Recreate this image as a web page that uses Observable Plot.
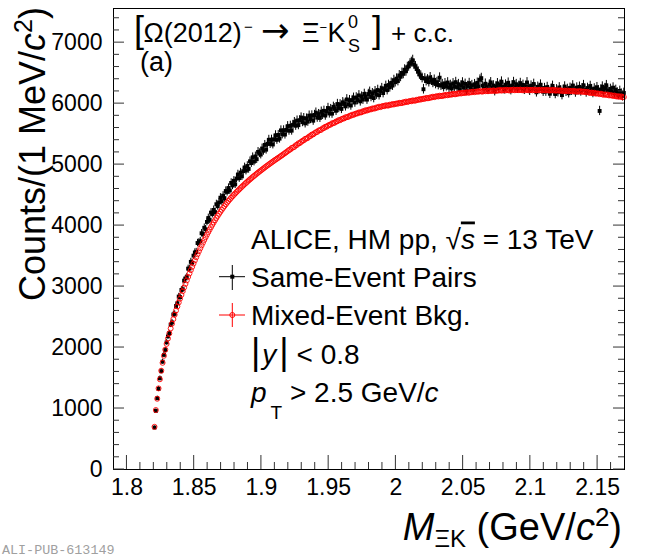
<!DOCTYPE html>
<html><head><meta charset="utf-8">
<script src="https://cdn.jsdelivr.net/npm/d3@7"></script>
<script src="https://cdn.jsdelivr.net/npm/@observablehq/plot@0.6"></script>
<style>
html,body{margin:0;padding:0;background:#fff;}
#chart{width:650px;height:558px;position:relative;overflow:hidden;}
</style></head><body><div id="chart"></div>
<script>
// Bin layout (1 MeV/c^2 bins)
const firstBinCenter = 1.8205;
const binWidth = 0.001;

// Same-event pairs (black)
const sameEventCounts = [
688,962,1168,1322,1495,1612,1768,1880,1958,2085,
2183,2236,2376,2413,2542,2553,2681,2727,2836,2827,
2944,2956,3097,3132,3156,3294,3295,3405,3389,3507,
3559,3567,3714,3725,3745,3874,3862,3964,3940,4060,
4124,4095,4213,4190,4256,4221,4350,4318,4380,4457,
4399,4490,4451,4567,4552,4616,4576,4699,4657,4734,
4676,4772,4838,4778,4869,4808,4893,4954,4901,4977,
4929,5054,5025,5120,5050,5134,5089,5208,5187,5165,
5264,5226,5323,5245,5341,5407,5338,5409,5330,5416,
5481,5406,5486,5426,5561,5496,5562,5493,5569,5630,
5556,5637,5557,5652,5697,5637,5722,5647,5727,5772,
5697,5762,5676,5755,5704,5803,5747,5806,5720,5814,
5852,5770,5828,5766,5868,5815,5882,5804,5871,5928,
5839,5910,5836,5947,5923,5883,5993,5928,5988,5913,
6022,5996,5955,6069,5988,6056,5969,6057,6095,6018,
6101,6058,6135,6037,6114,6066,6158,6110,6066,6157,
6193,6109,6170,6091,6202,6148,6223,6138,6208,6253,
6173,6238,6290,6221,6305,6268,6340,6296,6385,6352,
6408,6371,6462,6440,6503,6488,6556,6531,6598,6612,
6655,6680,6712,6640,6610,6566,6525,6478,6458,6420,
6236,6412,6370,6395,6352,6430,6378,6341,6390,6322,
6352,6305,6425,6296,6318,6270,6332,6285,6346,6262,
6305,6248,6331,6279,6352,6266,6318,6236,6298,6345,
6261,6323,6214,6289,6336,6258,6302,6229,6317,6271,
6340,6285,6392,6418,6296,6247,6325,6270,6228,6311,
6348,6262,6296,6205,6280,6332,6251,6308,6359,6274,
6233,6310,6267,6341,6286,6222,6297,6352,6264,6318,
6245,6291,6336,6259,6306,6228,6282,6347,6270,6212,
6294,6261,6322,6243,6186,6275,6237,6310,6252,6196,
6254,6198,6271,6220,6162,6245,6290,6206,6158,6232,
6187,6265,6214,6140,6226,6279,6195,6240,6171,6258,
6212,6297,6236,6183,6262,6218,6275,6201,6249,6302,
6228,6184,6256,6210,6288,6236,6175,6247,6206,6268,
6219,5880,6232,6278,6192,6254,6301,6215,6186,6240,
6198,6262,6171,6224,6185,6143,6208,6166,6122,6175
];

// Mixed-event background (red)
const mixedEventCounts = [
700,975,1160,1330,1480,1620,1750,1865,1965,2060,
2148,2232,2313,2391,2466,2538,2607,2674,2739,2802,
2864,2925,2985,3044,3102,3159,3215,3270,3324,3377,
3429,3480,3530,3579,3627,3674,3720,3765,3809,3852,
3894,3935,3975,4014,4052,4089,4125,4160,4194,4227,
4259,4290,4320,4349,4377,4404,4431,4456,4480,4504,
4527,4550,4572,4594,4616,4637,4658,4679,4699,4719,
4739,4758,4777,4796,4814,4832,4850,4868,4885,4902,
4919,4936,4953,4970,4986,5002,5018,5034,5050,5066,
5081,5096,5111,5126,5141,5156,5172,5188,5204,5220,
5239,5248,5273,5280,5291,5316,5324,5349,5352,5373,
5390,5398,5422,5428,5438,5462,5469,5493,5495,5515,
5530,5536,5559,5564,5572,5594,5599,5621,5621,5639,
5652,5656,5677,5680,5687,5707,5710,5730,5728,5744,
5755,5757,5776,5777,5782,5800,5801,5819,5815,5829,
5839,5839,5856,5855,5858,5875,5875,5892,5886,5898,
5906,5905,5921,5919,5921,5937,5935,5950,5943,5954,
5961,5959,5973,5969,5969,5983,5980,5994,5986,5996,
6002,5999,6013,6009,6009,6023,6020,6034,6026,6036,
6042,6039,6053,6049,6049,6063,6060,6074,6066,6076,
6082,6079,6093,6089,6089,6103,6100,6114,6106,6116,
6121,6117,6130,6125,6124,6137,6133,6146,6137,6146,
6151,6147,6160,6155,6154,6167,6163,6175,6166,6174,
6179,6174,6186,6181,6179,6191,6186,6198,6188,6196,
6200,6195,6206,6200,6197,6209,6203,6214,6203,6210,
6213,6207,6218,6211,6208,6219,6213,6224,6213,6220,
6222,6216,6227,6219,6216,6226,6220,6230,6219,6225,
6227,6220,6230,6222,6218,6227,6220,6230,6218,6224,
6225,6218,6228,6220,6216,6225,6218,6228,6216,6222,
6223,6216,6226,6218,6214,6224,6216,6225,6212,6217,
6218,6210,6219,6210,6205,6214,6206,6215,6202,6207,
6208,6200,6209,6200,6195,6204,6196,6205,6192,6197,
6196,6186,6193,6182,6175,6182,6172,6179,6164,6167,
6166,6156,6163,6152,6145,6152,6142,6149,6134,6137,
6136,6126,6133,6122,6115,6122,6112,6119,6104,6107
];

const xMajorTicks = [1.8, 1.85, 1.9, 1.95, 2, 2.05, 2.1, 2.15];
const yMajorTicks = [0, 1000, 2000, 3000, 4000, 5000, 6000, 7000];
const xDomain = [1.79, 2.17];
const yDomain = [0, 7560];

const same = sameEventCounts.map((c, i) => ({m: firstBinCenter + i * binWidth, c}));
const mixed = mixedEventCounts.map((c, i) => ({m: firstBinCenter + i * binWidth, c}));

const W = 650, H = 558, mL = 113, mR = 26, mT = 8, mB = 89;
const FONT = "'Liberation Sans', Arial, Helvetica, sans-serif";

const chart = Plot.plot({
  width: W, height: H,
  marginLeft: mL, marginRight: mR, marginTop: mT, marginBottom: mB,
  style: {fontFamily: FONT, background: "#fff", color: "#000", overflow: "visible"},
  x: {domain: xDomain, label: null},
  y: {domain: yDomain, label: null},
  marks: [
    Plot.axisX({ticks: xMajorTicks, tickSize: 0, tickPadding: 9, fontSize: 23, tickFormat: d => `${d}`, label: null}),
    Plot.axisY({ticks: yMajorTicks, tickSize: 0, tickPadding: 11, fontSize: 23, tickFormat: d3.format("d"), label: null}),
    Plot.ruleX(same, {x: "m", y1: d => d.c - Math.sqrt(d.c), y2: d => d.c + Math.sqrt(d.c), stroke: "#000", strokeWidth: 1}),
    Plot.dot(same, {x: "m", y: "c", symbol: "square", r: 2.2, fill: "#000", stroke: "none"}),
    Plot.dot(mixed, {x: "m", y: "c", r: 2.5, fill: "none", stroke: "#ff0000", strokeWidth: 0.9}),
    Plot.frame({stroke: "#000", strokeWidth: 1})
  ]
});
document.getElementById("chart").append(chart);

const sx = chart.scale("x"), sy = chart.scale("y");
const svg = d3.select(chart);
const yB = H - mB, yT = mT, xL = mL, xR = W - mR;

// inward ticks (bottom and left/right)
const tg = svg.append("g").attr("stroke", "#333").attr("stroke-width", 1);
const xMinor = d3.range(179, 218).map(k => k / 100).filter(v => !xMajorTicks.some(t => Math.abs(t - v) < 1e-6));
for (const v of xMajorTicks) { const x = sx.apply(v); tg.append("line").attr("x1", x).attr("x2", x).attr("y1", yB).attr("y2", yB - 14); }
for (const v of xMinor) { const x = sx.apply(v); if (x < xL + 0.5 || x > xR - 0.5) continue; tg.append("line").attr("x1", x).attr("x2", x).attr("y1", yB).attr("y2", yB - 7); }
const yMinor = d3.range(200, 7560, 200).filter(v => v % 1000 !== 0);
for (const v of yMajorTicks) { const y = sy.apply(v);
  tg.append("line").attr("x1", xL).attr("x2", xL + 11).attr("y1", y).attr("y2", y);
  tg.append("line").attr("x1", xR).attr("x2", xR - 11).attr("y1", y).attr("y2", y); }
for (const v of yMinor) { const y = sy.apply(v);
  tg.append("line").attr("x1", xL).attr("x2", xL + 6).attr("y1", y).attr("y2", y);
  tg.append("line").attr("x1", xR).attr("x2", xR - 6).attr("y1", y).attr("y2", y); }

// legend markers
const lg = svg.append("g");
lg.append("line").attr("x1", 219).attr("x2", 245).attr("y1", 276.7).attr("y2", 276.7).attr("stroke", "#000");
lg.append("line").attr("x1", 232.3).attr("x2", 232.3).attr("y1", 265).attr("y2", 290).attr("stroke", "#000");
lg.append("rect").attr("x", 230.3).attr("y", 274.7).attr("width", 4).attr("height", 4).attr("fill", "#000");
lg.append("line").attr("x1", 219).attr("x2", 245).attr("y1", 315).attr("y2", 315).attr("stroke", "#ff0000");
lg.append("line").attr("x1", 232.3).attr("x2", 232.3).attr("y1", 303).attr("y2", 327).attr("stroke", "#ff0000");
lg.append("circle").attr("cx", 232.3).attr("cy", 315).attr("r", 2.5).attr("fill", "none").attr("stroke", "#ff0000");

// texts
const txt = svg.append("g").attr("font-family", FONT).attr("fill", "#000").attr("text-anchor", "start").style("white-space", "pre");
txt.html(`
<text x="134" y="41.5" font-size="36">[</text>
<text x="143.5" y="41.7" font-size="27">Ω(2012)</text>
<text x="244" y="32" font-size="15">−</text>
<text x="261" y="42" font-size="34" font-family="'DejaVu Sans', sans-serif">→</text>
<text x="302" y="41.7" font-size="27">Ξ</text>
<text x="319.5" y="32" font-size="13">−</text>
<text x="327.5" y="41.7" font-size="27">K</text>
<text x="348" y="28.3" font-size="18">0</text>
<text x="348" y="51.7" font-size="18">S</text>
<text x="372" y="41.5" font-size="36">]</text>
<text x="391" y="41.7" font-size="26">+ c.c.</text>
<text x="140" y="71" font-size="27">(a)</text>
<text x="251" y="248.5" font-size="28">ALICE, HM pp, <tspan>√</tspan><tspan font-style="italic" text-decoration="overline">s</tspan> = 13 TeV</text>
<text x="251" y="286.5" font-size="28">Same-Event Pairs</text>
<text x="251" y="325" font-size="28">Mixed-Event Bkg.</text>
<text x="251" y="363.5" font-size="28"><tspan font-size="36">|</tspan><tspan font-style="italic" dx="2">y</tspan><tspan font-size="36" dx="3">|</tspan> &lt; 0.8</text>
<text x="251" y="401.7" font-size="28"><tspan font-style="italic">p</tspan><tspan font-size="19" dx="4" dy="17">T</tspan><tspan dy="-17"> &gt; 2.5 GeV/</tspan><tspan font-style="italic">c</tspan></text>
<text transform="translate(45,301) rotate(-90)" font-size="36">Counts/(1 MeV/<tspan font-style="italic">c</tspan><tspan font-size="25" dy="-13">2</tspan><tspan dy="13">)</tspan></text>
<text x="622" y="540" font-size="38" text-anchor="end"><tspan font-style="italic">M</tspan><tspan font-size="24" dy="7">ΞK</tspan><tspan dy="-7"> (GeV/</tspan><tspan font-style="italic">c</tspan><tspan font-size="26" dy="-14">2</tspan><tspan dy="14">)</tspan></text>
<text x="2" y="554" font-size="13.4" font-family="'Liberation Mono', 'DejaVu Sans Mono', monospace" fill="#a0a0a0">ALI-PUB-613149</text>
`);
</script>
</body></html>
